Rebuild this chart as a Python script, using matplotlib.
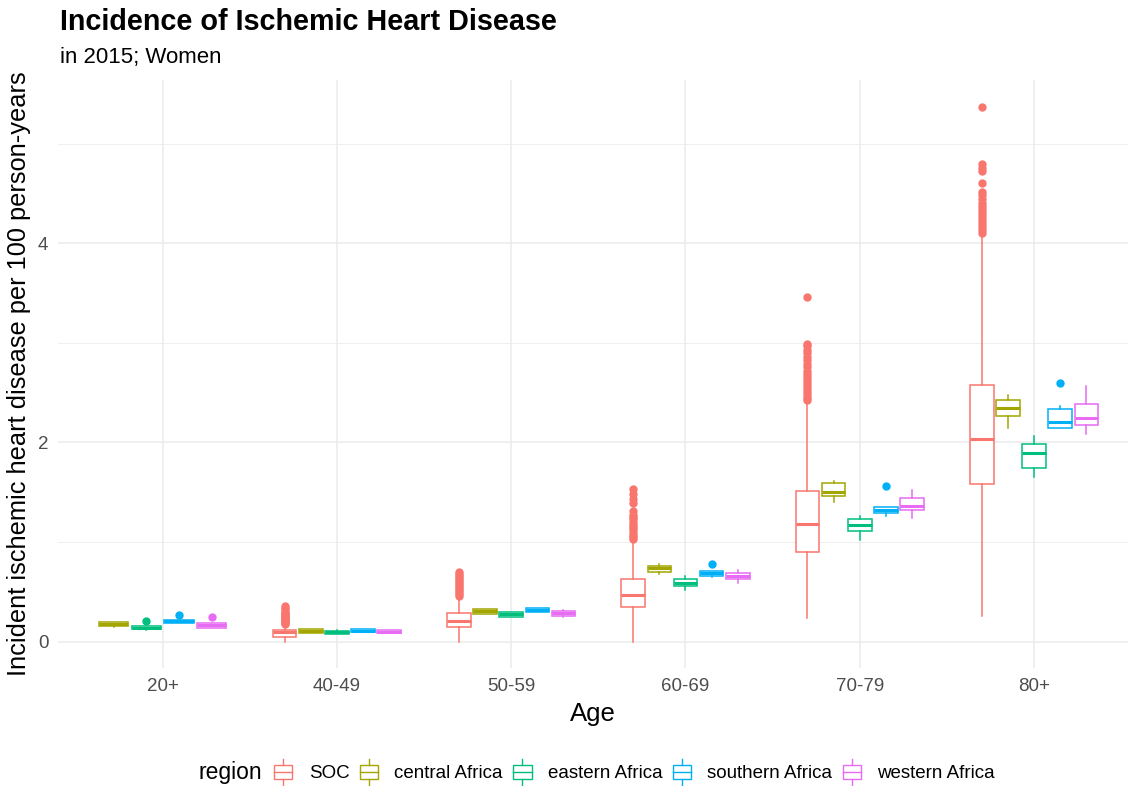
import numpy as np
import matplotlib
matplotlib.use("Agg")
import matplotlib.pyplot as plt
from matplotlib.patches import Rectangle, Patch
from matplotlib.lines import Line2D
from matplotlib.legend_handler import HandlerBase

plt.rcParams['font.family'] = ['Liberation Sans', 'DejaVu Sans']

ages = ["20+", "40-49", "50-59", "60-69", "70-79", "80+"]
regions = ["SOC", "central Africa", "eastern Africa", "southern Africa", "western Africa"]
colors = ["#F8766D", "#A3A500", "#00BF7D", "#00B0F6", "#E76BF3"]

nan = np.nan
# box statistics per region, one value per age group (nan = no data)
soc_q1 = [nan, 0.044, 0.147, 0.348, 0.901, 1.581]
soc_med = [nan, 0.094, 0.204, 0.472, 1.179, 2.035]
soc_q3 = [nan, 0.114, 0.288, 0.626, 1.508, 2.578]
soc_lo = [nan, 0.0, 0.0, 0.0, 0.235, 0.253]
soc_hi = [nan, 0.16, 0.452, 1.015, 2.389, 4.066]
soc_out = [
    [],
    [0.18, 0.19, 0.20, 0.21, 0.22, 0.23, 0.24, 0.25, 0.26, 0.27, 0.28, 0.29, 0.30, 0.33, 0.34, 0.36],
    [0.46, 0.48, 0.50, 0.52, 0.54, 0.56, 0.58, 0.60, 0.62, 0.64, 0.66, 0.68, 0.70],
    [1.03, 1.05, 1.07, 1.10, 1.13, 1.15, 1.17, 1.20, 1.23, 1.25, 1.27, 1.31, 1.39, 1.43, 1.48, 1.53],
    [2.42, 2.45, 2.48, 2.51, 2.54, 2.57, 2.60, 2.63, 2.66, 2.69, 2.72, 2.76, 2.79, 2.83,
     2.86, 2.90, 2.93, 2.97, 2.99, 3.46],
    [4.10, 4.13, 4.16, 4.19, 4.22, 4.25, 4.28, 4.31, 4.34, 4.37, 4.40, 4.44, 4.48, 4.51,
     4.60, 4.72, 4.75, 4.79, 5.37],
]

central_q1 = [0.154, 0.087, 0.281, 0.693, 1.457, 2.266]
central_med = [0.174, 0.104, 0.305, 0.740, 1.497, 2.340]
central_q3 = [0.191, 0.121, 0.322, 0.757, 1.595, 2.420]
central_lo = [0.150, 0.085, 0.275, 0.673, 1.404, 2.143]
central_hi = [0.195, 0.123, 0.327, 0.774, 1.615, 2.480]
central_out = [[], [], [], [], [], []]

eastern_q1 = [0.121, 0.080, 0.251, 0.559, 1.106, 1.741]
eastern_med = [0.137, 0.094, 0.275, 0.586, 1.166, 1.890]
eastern_q3 = [0.154, 0.110, 0.295, 0.626, 1.226, 1.979]
eastern_lo = [0.115, 0.078, 0.245, 0.519, 1.022, 1.648]
eastern_hi = [0.160, 0.112, 0.300, 0.653, 1.263, 2.065]
eastern_out = [[0.208], [], [], [], [], []]

southern_q1 = [0.188, 0.097, 0.300, 0.660, 1.290, 2.143]
southern_med = [0.204, 0.110, 0.318, 0.690, 1.323, 2.202]
southern_q3 = [0.218, 0.127, 0.332, 0.710, 1.350, 2.333]
southern_lo = [0.185, 0.095, 0.298, 0.647, 1.256, 2.140]
southern_hi = [0.220, 0.130, 0.336, 0.712, 1.352, 2.362]
southern_out = [[0.268], [], [], [0.774], [1.561], [2.597]]

western_q1 = [0.137, 0.084, 0.261, 0.623, 1.317, 2.176]
western_med = [0.164, 0.100, 0.285, 0.660, 1.360, 2.243]
western_q3 = [0.188, 0.114, 0.308, 0.687, 1.440, 2.381]
western_lo = [0.135, 0.082, 0.250, 0.586, 1.240, 2.083]
western_hi = [0.190, 0.116, 0.320, 0.720, 1.520, 2.567]
western_out = [[0.245], [], [], [], [], []]

stats_by_region = [
    (soc_q1, soc_med, soc_q3, soc_lo, soc_hi, soc_out),
    (central_q1, central_med, central_q3, central_lo, central_hi, central_out),
    (eastern_q1, eastern_med, eastern_q3, eastern_lo, eastern_hi, eastern_out),
    (southern_q1, southern_med, southern_q3, southern_lo, southern_hi, southern_out),
    (western_q1, western_med, western_q3, western_lo, western_hi, western_out),
]

fig = plt.figure(figsize=(11.28, 7.86), dpi=100)
ax = fig.add_axes([58 / 1128, 1 - 668.4 / 786, 1 - 58 / 1128, (668.4 - 79.8) / 786])

grid = "#EBEBEB"
for y in [1, 3, 5]:
    ax.axhline(y, color=grid, lw=0.55, zorder=0)
for y in [0, 2, 4]:
    ax.axhline(y, color=grid, lw=1.1, zorder=0)
for x in range(1, len(ages) + 1):
    ax.axvline(x, color=grid, lw=1.1, zorder=0)

lw = 1.1
for j, age in enumerate(ages):
    present = [i for i in range(len(regions)) if not np.isnan(stats_by_region[i][1][j])]
    n = len(present)
    slot = 0.75 / n
    for k, i in enumerate(present):
        q1, med, q3, lo, hi, out = stats_by_region[i]
        pos = (j + 1) - 0.375 + slot * (k + 0.5)
        st = dict(q1=q1[j], med=med[j], q3=q3[j], whislo=lo[j], whishi=hi[j], fliers=out[j])
        c = colors[i]
        ax.bxp([st], positions=[pos], widths=slot * 0.9, showcaps=False, patch_artist=True,
               boxprops=dict(facecolor="white", edgecolor=c, lw=lw),
               whiskerprops=dict(color=c, lw=lw),
               medianprops=dict(color=c, lw=lw * 2),
               flierprops=dict(marker="o", markerfacecolor=c, markeredgecolor=c, markersize=5,
                               linestyle="none"),
               manage_ticks=False, zorder=3)

ax.set_xlim(0.4, 0.4 + (1128 - 58) / 174.3)
ax.set_ylim(-0.27, 5.64)
ax.set_xticks(range(1, len(ages) + 1))
ax.set_xticklabels(ages)
ax.set_yticks([0, 2, 4])
ax.tick_params(length=0, labelsize=13.5, labelcolor="#4D4D4D", pad=7)
for s in ax.spines.values():
    s.set_visible(False)
ax.set_xlabel("Age", fontsize=18.5, labelpad=5)
ax.set_ylabel("Incident ischemic heart disease per 100 person-years", fontsize=18.3, labelpad=5)

fig.text(60 / 1128, 1 - 22 / 786, "Incidence of Ischemic Heart Disease", fontsize=20.7,
         fontweight="bold", va="center", ha="left")
fig.text(60 / 1128, 1 - 58 / 786, "in 2015; Women", fontsize=16, va="center", ha="left")


class BoxKey(HandlerBase):
    # ggplot-style boxplot legend key
    def create_artists(self, legend, orig_handle, xdescent, ydescent, width, height,
                       fontsize, trans):
        c = orig_handle.get_edgecolor()
        x0, y0 = -xdescent, -ydescent
        cx = x0 + width / 2
        bl, bw = x0 + width * 0.06, width * 0.88
        rect = Rectangle((bl, y0 + height * 0.18), bw, height * 0.64,
                         facecolor="white", edgecolor=c, lw=1.0, transform=trans)
        med = Line2D([bl, bl + bw], [y0 + height * 0.5] * 2, color=c, lw=1.0,
                     transform=trans)
        w1 = Line2D([cx, cx], [y0 - height * 0.05, y0 + height * 0.18], color=c, lw=1.0,
                    transform=trans)
        w2 = Line2D([cx, cx], [y0 + height * 0.82, y0 + height * 1.05], color=c, lw=1.0,
                    transform=trans)
        return [rect, med, w1, w2]


handles = [Patch(edgecolor=c, facecolor="white") for c in colors]
fig.text(199 / 1128, 1 - 772 / 786, "region", fontsize=16.5, va="center", ha="left")
fig.legend(handles, regions, handler_map={Patch: BoxKey()}, loc="center left",
           bbox_to_anchor=(273 / 1128, 1 - 772 / 786), ncol=5, frameon=False,
           fontsize=13.5, handlelength=1.1, handleheight=1.5, handletextpad=0.8,
           columnspacing=0.5, borderaxespad=0, borderpad=0)

fig.savefig("out.png", dpi=100)
